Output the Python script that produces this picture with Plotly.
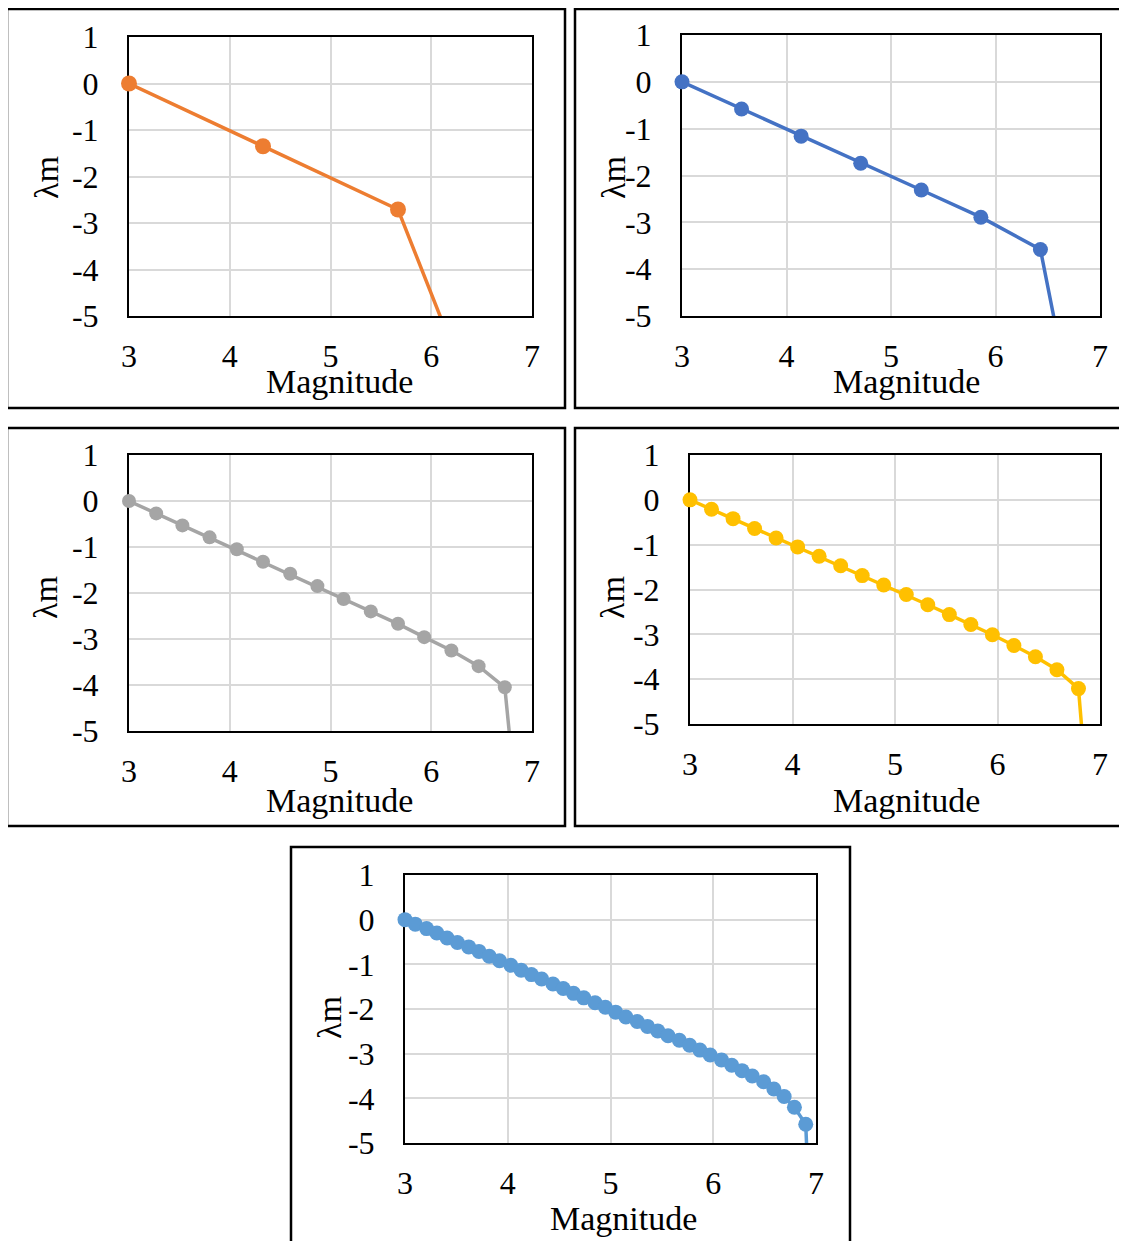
import plotly.graph_objects as go

# page body has an 8px margin; the figure fills the rest of the window
OFF = 8
W, H = 1127 - OFF, 1241 - OFF

# ---------------- data ----------------
mag_1 = [3.00, 4.33, 5.67, 7.00]
lam_1 = [0.00, -1.35, -2.71, -10.0]

mag_2 = [3.00, 3.57, 4.14, 4.71, 5.29, 5.86, 6.43, 7.00]
lam_2 = [0.00, -0.58, -1.16, -1.74, -2.31, -2.89, -3.58, -10.0]

mag_3 = [3.00, 3.27, 3.53, 3.80, 4.07, 4.33, 4.60, 4.87, 5.13, 5.40,
         5.67, 5.93, 6.20, 6.47, 6.73, 7.00]
lam_3 = [0.00, -0.27, -0.53, -0.79, -1.05, -1.32, -1.58, -1.85, -2.13, -2.40,
         -2.67, -2.96, -3.25, -3.59, -4.05, -10.0]

mag_4 = [3.00, 3.21, 3.42, 3.63, 3.84, 4.05, 4.26, 4.47, 4.68, 4.89,
         5.11, 5.32, 5.53, 5.74, 5.95, 6.16, 6.37, 6.58, 6.79, 7.00]
lam_4 = [0.00, -0.21, -0.42, -0.64, -0.85, -1.05, -1.26, -1.47, -1.69, -1.90,
         -2.11, -2.34, -2.56, -2.78, -3.01, -3.25, -3.50, -3.79, -4.21, -10.0]

mag_5 = [3.00, 3.10, 3.21, 3.31, 3.41, 3.51, 3.62, 3.72, 3.82, 3.92,
         4.03, 4.13, 4.23, 4.33, 4.44, 4.54, 4.64, 4.74, 4.85, 4.95,
         5.05, 5.15, 5.26, 5.36, 5.46, 5.56, 5.67, 5.77, 5.87, 5.97,
         6.08, 6.18, 6.28, 6.38, 6.49, 6.59, 6.69, 6.79, 6.90, 7.00]
lam_5 = [0.00, -0.10, -0.20, -0.30, -0.41, -0.51, -0.61, -0.71, -0.82, -0.92,
         -1.02, -1.13, -1.23, -1.33, -1.44, -1.54, -1.65, -1.75, -1.86, -1.96,
         -2.07, -2.18, -2.28, -2.39, -2.49, -2.60, -2.70, -2.81, -2.92, -3.03,
         -3.14, -3.26, -3.38, -3.50, -3.63, -3.79, -3.96, -4.20, -4.58, -10.0]

x_ticks = [3, 4, 5, 6, 7]
y_ticks = [1, 0, -1, -2, -3, -4, -5]
x_ticktext = ["3", "4", "5", "6", "7"]
y_ticktext = ["1", "0", "-1", "-2", "-3", "-4", "-5"]
x_range = [3, 7]
y_range = [-5, 1]
x_title = "Magnitude"
y_title = "λm"

series = [(mag_1, lam_1), (mag_2, lam_2), (mag_3, lam_3), (mag_4, lam_4), (mag_5, lam_5)]

# ---------------- styles / layout geometry (window pixels) ----------------
colors = ["#ED7D31", "#4472C4", "#A5A5A5", "#FFC000", "#5B9BD5"]
marker_sizes = [16, 15, 14, 15, 15]
plots = [(129, 37, 532, 316), (682, 35, 1100, 316), (129, 455, 532, 731),
         (690, 455, 1100, 724), (405, 875, 816, 1143)]
frames = [(7, 9, 565, 408), (575, 9, 1145, 408), (7, 428, 565, 826),
          (575, 428, 1145, 826), (291, 847, 850, 1260)]
xtitle_pos = [(339, 382), (906, 382), (339, 800), (906, 800), (623, 1218)]
ytitle_pos = [(46, 178), (613, 178), (46, 598), (613, 598), (329, 1018)]

FONT = "Liberation Serif, Times New Roman, serif"
TICK_SIZE = 32
TITLE_SIZE = 34


def px(x):
    return (x - OFF) / W


def py(y):
    return 1 - (y - OFF) / H


fig = go.Figure()
layout = dict(
    template="none",
    width=W, height=H,
    margin=dict(l=0, r=0, t=0, b=0, pad=0, autoexpand=False),
    paper_bgcolor="white", plot_bgcolor="white", showlegend=False,
    font=dict(family=FONT, size=TICK_SIZE, color="black"),
)
shapes = []
annotations = []

for i, ((mx, ly), col) in enumerate(zip(series, colors)):
    n = i + 1
    xa = "x" if n == 1 else f"x{n}"
    ya = "y" if n == 1 else f"y{n}"
    # line through all points (clipped to the plot area)
    fig.add_trace(go.Scatter(x=mx, y=ly, mode="lines", xaxis=xa, yaxis=ya,
                             line=dict(color=col, width=3.5), hoverinfo="skip"))
    # markers only for the points inside the visible range
    vis = [(a, b) for a, b in zip(mx, ly) if y_range[0] <= b <= y_range[1]]
    fig.add_trace(go.Scatter(x=[a for a, _ in vis], y=[b for _, b in vis],
                             mode="markers", xaxis=xa, yaxis=ya, cliponaxis=False,
                             marker=dict(color=col, size=marker_sizes[i], line=dict(width=0))))

    l, t, r, b = plots[i]
    common = dict(showgrid=True, gridcolor="#D9D9D9", gridwidth=2, zeroline=False,
                  showline=True, linecolor="black", linewidth=2, mirror=True,
                  layer="below traces", ticks="", fixedrange=True, automargin=False,
                  tickfont=dict(family=FONT, size=TICK_SIZE, color="black"))
    layout["xaxis" if n == 1 else f"xaxis{n}"] = dict(
        domain=[px(l), px(r)], range=x_range, tickvals=x_ticks, ticktext=x_ticktext,
        anchor=ya, ticklabelstandoff=11, **common)
    layout["yaxis" if n == 1 else f"yaxis{n}"] = dict(
        domain=[py(b), py(t)], range=y_range, tickvals=y_ticks, ticktext=y_ticktext,
        anchor=xa, ticklabelstandoff=22, **common)

    fl, ft, fr, fb = frames[i]
    shapes.append(dict(type="rect", xref="paper", yref="paper",
                       x0=px(fl), x1=px(fr), y0=py(fb), y1=py(ft),
                       line=dict(color="black", width=2.5), fillcolor="rgba(0,0,0,0)",
                       layer="above"))
    tx, ty = xtitle_pos[i]
    annotations.append(dict(text=x_title, xref="paper", yref="paper", x=px(tx), y=py(ty),
                            xanchor="center", yanchor="middle", showarrow=False,
                            font=dict(family=FONT, size=TITLE_SIZE, color="black")))
    sx, sy = ytitle_pos[i]
    annotations.append(dict(text=y_title, xref="paper", yref="paper", x=px(sx), y=py(sy),
                            xanchor="center", yanchor="middle", showarrow=False, textangle=-90,
                            font=dict(family=FONT, size=TITLE_SIZE, color="black")))

layout["shapes"] = shapes
layout["annotations"] = annotations
fig.update_layout(**layout)
fig.write_html("out.html")
